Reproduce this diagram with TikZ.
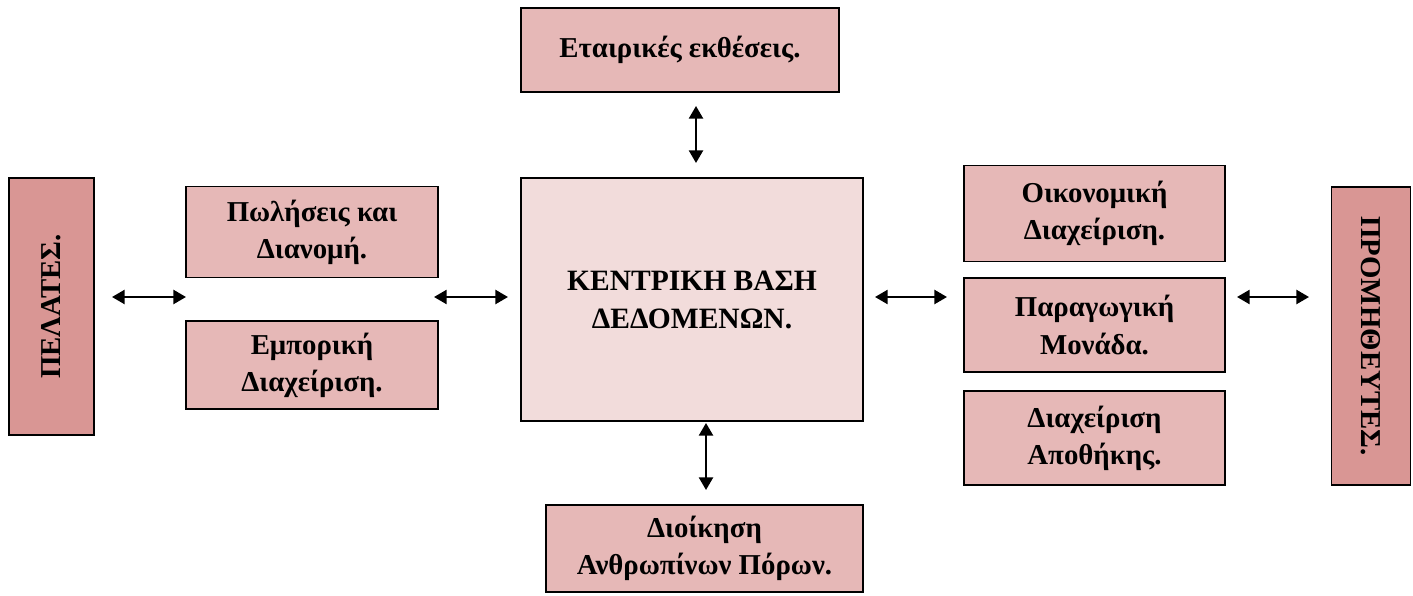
\documentclass[tikz,border=0pt]{standalone}
\usepackage{fontspec}
\setmainfont{Liberation Serif}
\usetikzlibrary{arrows.meta, positioning}
\definecolor{rosebox}{HTML}{E6B8B7}
\definecolor{rosecore}{HTML}{F2DCDB}
\definecolor{roseside}{HTML}{D99694}
\newcommand{\boxfont}{\fontsize{20.5}{26.5}\selectfont\bfseries}
\tikzstyle{module} = [
rectangle, draw=black, line width=1.2pt, fill=rosebox, align=center,
text centered, inner sep=0pt, font=\boxfont
]
\tikzstyle{core} = [
rectangle, draw=black, line width=1.2pt, fill=rosecore, align=center,
text centered, inner sep=0pt, font=\fontsize{21}{27}\selectfont\bfseries
]
\tikzstyle{side} = [
rectangle, draw=black, line width=1.2pt, fill=roseside, align=center,
text centered, inner sep=0pt, font=\boxfont
]
\tikzstyle{biarrow} = [line width=1.6pt,{Triangle[length=9pt,width=10pt]}-{Triangle[length=9pt,width=10pt]}]

\begin{document}
\begin{tikzpicture}
			\useasboundingbox (0,0) rectangle (35.325,-14.9);
			% Κεντρική βάση
			\node (Core) [core, minimum width=8.55cm, minimum height=6.075cm] at (17.3,-7.4875) {ΚΕΝΤΡΙΚΗ ΒΑΣΗ\\ΔΕΔΟΜΕΝΩΝ.};
			\node (Reports) [module, minimum width=7.95cm, minimum height=2.1cm] at (17.0,-1.25) {Εταιρικές εκθέσεις.};
			\node (HR) [module, minimum width=7.925cm, minimum height=2.175cm] at (17.6125,-13.7125) {Διοίκηση\\Ανθρωπίνων Πόρων.};

			% Αριστερά
			\node (Clients) [side, minimum width=2.125cm, minimum height=6.425cm] at (1.2875,-7.6625) {};
			\node [rotate=90, font=\boxfont] at (Clients) {ΠΕΛΑΤΕΣ.};
			\node (Sales) [module, minimum width=6.3cm, minimum height=2.275cm] at (7.8,-5.8) {Πωλήσεις και\\Διανομή.};
			\node (Trade) [module, minimum width=6.3cm, minimum height=2.2cm] at (7.8,-9.125) {Εμπορική\\Διαχείριση.};

			% Δεξιά
			\node (Finance) [module, minimum width=6.525cm, minimum height=2.4cm] at (27.3625,-5.3375) {Οικονομική\\Διαχείριση.};
			\node (Production) [module, minimum width=6.525cm, minimum height=2.35cm] at (27.3625,-8.125) {Παραγωγική\\Μονάδα.};
			\node (Stock) [module, minimum width=6.525cm, minimum height=2.35cm] at (27.3625,-10.95) {Διαχείριση\\Αποθήκης.};
			\node (Suppliers) [side, minimum width=1.975cm, minimum height=7.45cm] at (34.275,-8.4) {};
			\node [rotate=-90, font=\boxfont] at (Suppliers) {ΠΡΟΜΗΘΕΥΤΕΣ.};

			% Άκρα βελών
			\coordinate (L1a) at (2.8,-7.425);
			\coordinate (L1b) at (4.65,-7.425);
			\coordinate (L2a) at (10.85,-7.425);
			\coordinate (L2b) at (12.7,-7.425);
			\coordinate (R1a) at (21.875,-7.425);
			\coordinate (R1b) at (23.675,-7.425);
			\coordinate (R2a) at (30.925,-7.425);
			\coordinate (R2b) at (32.725,-7.425);
			\coordinate (Ua) at (17.4,-2.65);
			\coordinate (Ub) at (17.4,-4.075);
			\coordinate (Da) at (17.65,-10.575);
			\coordinate (Db) at (17.65,-12.25);

			% Βέλη
			\draw [biarrow] (L1a) -- (L1b);
			\draw [biarrow] (L2a) -- (L2b);
			\draw [biarrow] (R1a) -- (R1b);
			\draw [biarrow] (R2a) -- (R2b);
			\draw [biarrow] (Ua) -- (Ub);
			\draw [biarrow] (Da) -- (Db);

		\end{tikzpicture}
\end{document}
